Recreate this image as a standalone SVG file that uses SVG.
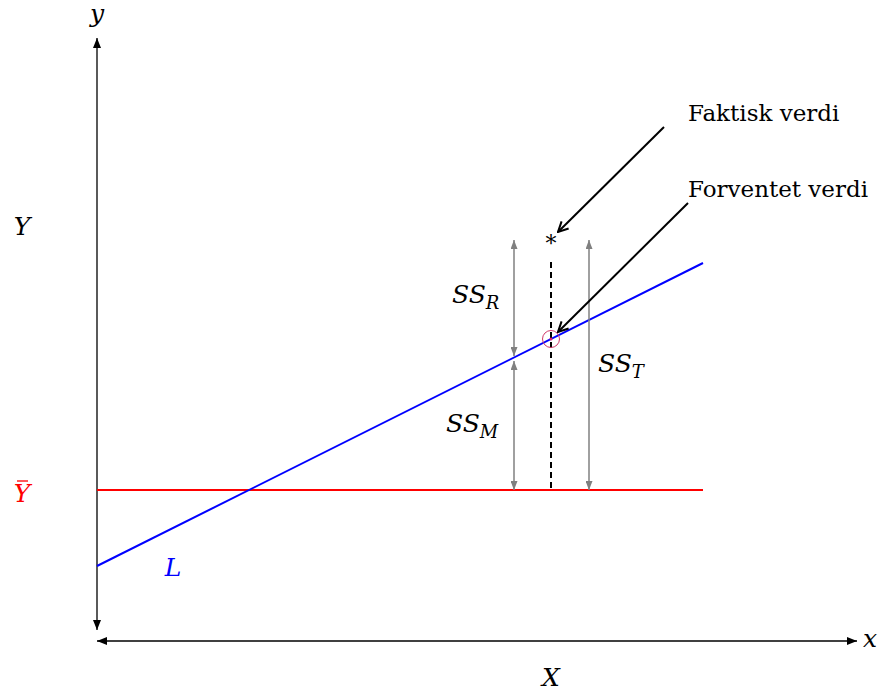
<svg xmlns="http://www.w3.org/2000/svg" width="878" height="693" viewBox="0 0 878 693">
<defs>
<style>
.math{font-family:'DejaVu Serif',serif;font-style:italic;font-size:25px;fill:#000}
.sub{font-size:18px}
.txt{font-family:'DejaVu Serif',serif;font-size:23px;fill:#000}
.axis{stroke:#000;stroke-width:1.3;fill:none}
.gray{stroke:#808080;stroke-width:1.5;fill:none}
.ann{stroke:#000;stroke-width:2;fill:none}
</style>
<marker id="ak" viewBox="0 0 10 8" refX="10" refY="4" markerWidth="10" markerHeight="8" markerUnits="userSpaceOnUse" orient="auto-start-reverse">
<path d="M0,0 L10,4 L0,8 Z" fill="#000"/>
</marker>
<marker id="ag" viewBox="0 0 9 7" refX="9" refY="3.5" markerWidth="9" markerHeight="7" markerUnits="userSpaceOnUse" orient="auto-start-reverse">
<path d="M0,0 L9,3.5 L0,7 Z" fill="#808080"/>
</marker>
<marker id="ao" viewBox="0 0 12 12" refX="11" refY="6" markerWidth="12" markerHeight="12" markerUnits="userSpaceOnUse" orient="auto">
<path d="M1,1 L11,6 L1,11" fill="none" stroke="#000" stroke-width="2"/>
</marker>
</defs>
<g id="axes">
<line class="axis" x1="97" y1="630" x2="97" y2="38" marker-end="url(#ak)" marker-start="url(#ak)"/>
<line class="axis" x1="97" y1="641" x2="857" y2="641" marker-end="url(#ak)" marker-start="url(#ak)"/>
<text class="math" x="97" y="22" text-anchor="middle">y</text>
<text class="math" x="870" y="647" text-anchor="middle">x</text>
<text class="math" x="551" y="686" text-anchor="middle">X</text>
<text class="math" x="22" y="235" text-anchor="middle">Y</text>
</g>
<g id="mean-line">
<line x1="97" y1="490" x2="703" y2="490" stroke="#ff0000" stroke-width="2"/>
<text class="math" x="22" y="502" text-anchor="middle" style="fill:#ff0000">Y</text>
<line x1="17" y1="481" x2="28" y2="481" stroke="#ff0000" stroke-width="1.3"/>
</g>
<g id="regression-line">
<line x1="97" y1="566" x2="703" y2="263" stroke="#0000ff" stroke-width="2"/>
<text class="math" x="173" y="576" text-anchor="middle" style="fill:#0000ff">L</text>
</g>
<g id="observation">
<line x1="551" y1="262" x2="551" y2="490" stroke="#000" stroke-width="2" stroke-dasharray="6,4"/>
<text x="551" y="251" text-anchor="middle" font-family="'DejaVu Serif', serif" font-size="22" fill="#000">*</text>
<circle cx="551" cy="339" r="8.5" fill="none" stroke="#d03a6a" stroke-width="1"/>
<circle cx="551" cy="339" r="1.5" fill="#e0206a"/>
</g>
<g id="connectors">
<line class="gray" x1="514" y1="240" x2="514" y2="356" marker-start="url(#ag)" marker-end="url(#ag)"/>
<line class="gray" x1="514" y1="361" x2="514" y2="490" marker-start="url(#ag)" marker-end="url(#ag)"/>
<line class="gray" x1="589" y1="240" x2="589" y2="490" marker-start="url(#ag)" marker-end="url(#ag)"/>
<line class="ann" x1="664" y1="127" x2="558" y2="232" marker-end="url(#ao)"/>
<line class="ann" x1="688" y1="203" x2="558" y2="332" marker-end="url(#ao)"/>
</g>
<g id="labels">
<text class="math" x="452" y="303">SS<tspan class="sub" dy="6">R</tspan></text>
<text class="math" x="446" y="432">SS<tspan class="sub" dy="6">M</tspan></text>
<text class="math" x="598" y="372">SS<tspan class="sub" dy="6">T</tspan></text>
<text class="txt" x="688" y="121">Faktisk verdi</text>
<text class="txt" x="688" y="197">Forventet verdi</text>
</g>
</svg>
